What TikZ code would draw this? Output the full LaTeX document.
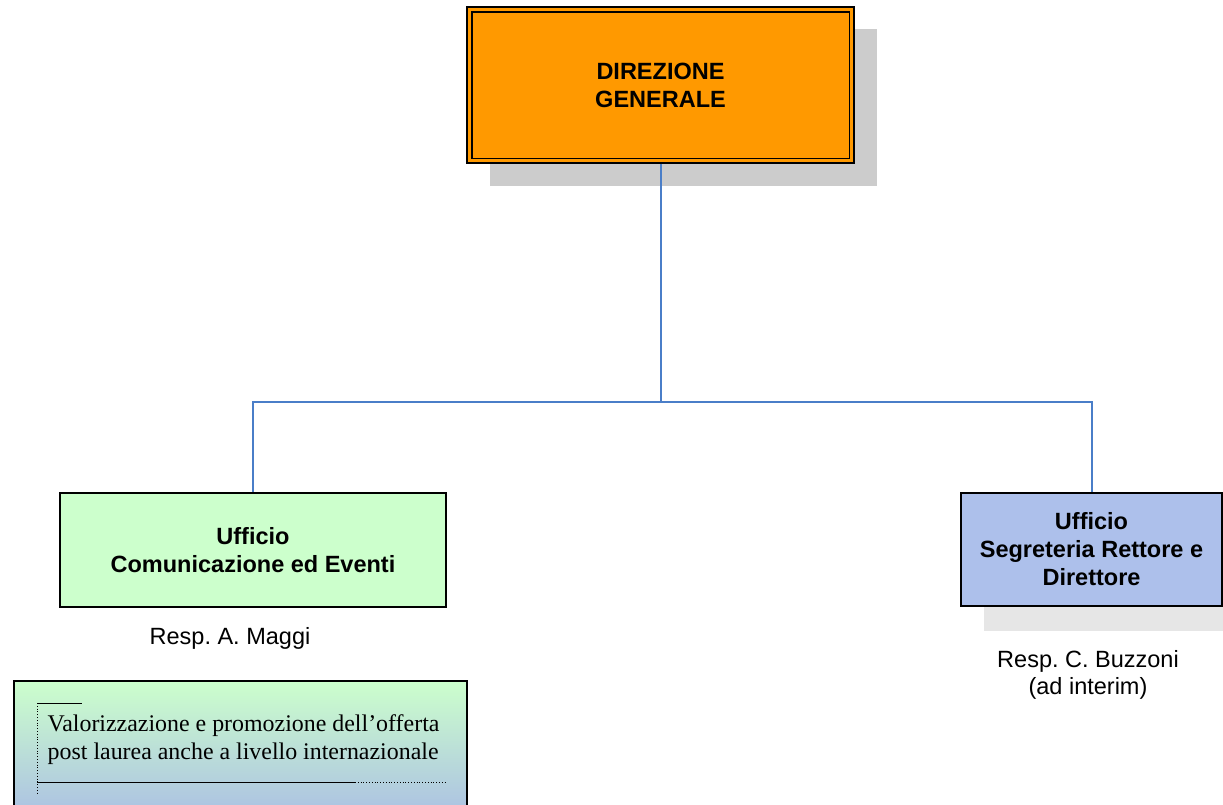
\documentclass[tikz,border=0pt]{standalone}
\usepackage{fontspec}
\setmainfont{Liberation Sans}
\newfontfamily\timesfont{Liberation Serif}
\frenchspacing
\definecolor{orangebox}{RGB}{255,153,0}
\definecolor{greenbox}{RGB}{204,255,204}
\definecolor{bluebox}{RGB}{173,192,235}
\definecolor{gradbottom}{RGB}{170,190,228}
\definecolor{connblue}{RGB}{74,126,200}
\definecolor{shadowdark}{RGB}{204,204,204}
\definecolor{shadowlight}{RGB}{230,230,230}
\tikzset{
  unitbox/.style={draw=black, line width=1.8pt, inner sep=0pt, align=center,
    font=\fontsize{23.5}{28}\selectfont\bfseries},
  resplabel/.style={inner sep=0pt, align=center, font=\fontsize{23.5}{27}\selectfont},
  conn/.style={draw=connblue, line width=2pt},
}
\begin{document}
\begin{tikzpicture}[x=1pt,y=-1pt]
\clip (0,0) rectangle (1223,804);
\fill[white] (0,0) rectangle (1223,804);
% shadows
\fill[shadowdark] (490,29) rectangle (877,186);
\fill[shadowlight] (984,520) rectangle (1250,631);
% top box
\node[unitbox, fill=orangebox, minimum width=387pt, minimum height=156pt] (top) at (660.5,85) {DIREZIONE\\GENERALE};
\draw[line width=1.8pt] ([shift={(5.5pt,-5.5pt)}]top.north west) rectangle ([shift={(-5.5pt,5.5pt)}]top.south east);
% child boxes
\node[unitbox, fill=greenbox, minimum width=386pt, minimum height=114pt] (left) at (253,550) {Ufficio\\Comunicazione ed Eventi};
\node[unitbox, fill=bluebox, minimum width=261pt, minimum height=113pt] (right) at (1091.5,549.5) {Ufficio\\Segreteria Rettore e\\Direttore};
% connectors
\coordinate (mid) at (660.5,402);
\draw[conn] (top.south) -- (mid);
\draw[conn] (mid) -| (left.north);
\draw[conn] (mid) -| (right.north);
% responsible labels
\node[resplabel] (respA) at (230,638) {Resp. A. Maggi};
\node[resplabel] (respC) at (1088,675) {Resp. C. Buzzoni\\(ad interim)};
% gradient box
\node[draw=black, line width=1.8pt, top color=greenbox, bottom color=gradbottom,
      minimum width=453pt, minimum height=140pt, inner sep=0pt] (note) at (240.5,751) {};
\node[anchor=west, inner sep=0pt, align=left, font=\timesfont\fontsize{23.9}{28}\selectfont] (notetext) at (47.5,740) {Valorizzazione e promozione dell’offerta\\post laurea anche a livello internazionale};
\coordinate (ntl) at (37,703);
\coordinate (ntr) at (82,703);
\coordinate (nbl) at (37,793);
\coordinate (nbm) at (37,782);
\coordinate (nbs) at (355,782);
\coordinate (nbe) at (446,782);
\draw[line width=0.9pt] (ntl) -- (ntr);
\draw[line width=0.8pt, dotted] (ntl) -- (nbl);
\draw[line width=0.9pt] (nbm) -- (nbs);
\draw[line width=0.8pt, dotted] (nbs) -- (nbe);
\end{tikzpicture}
\end{document}
